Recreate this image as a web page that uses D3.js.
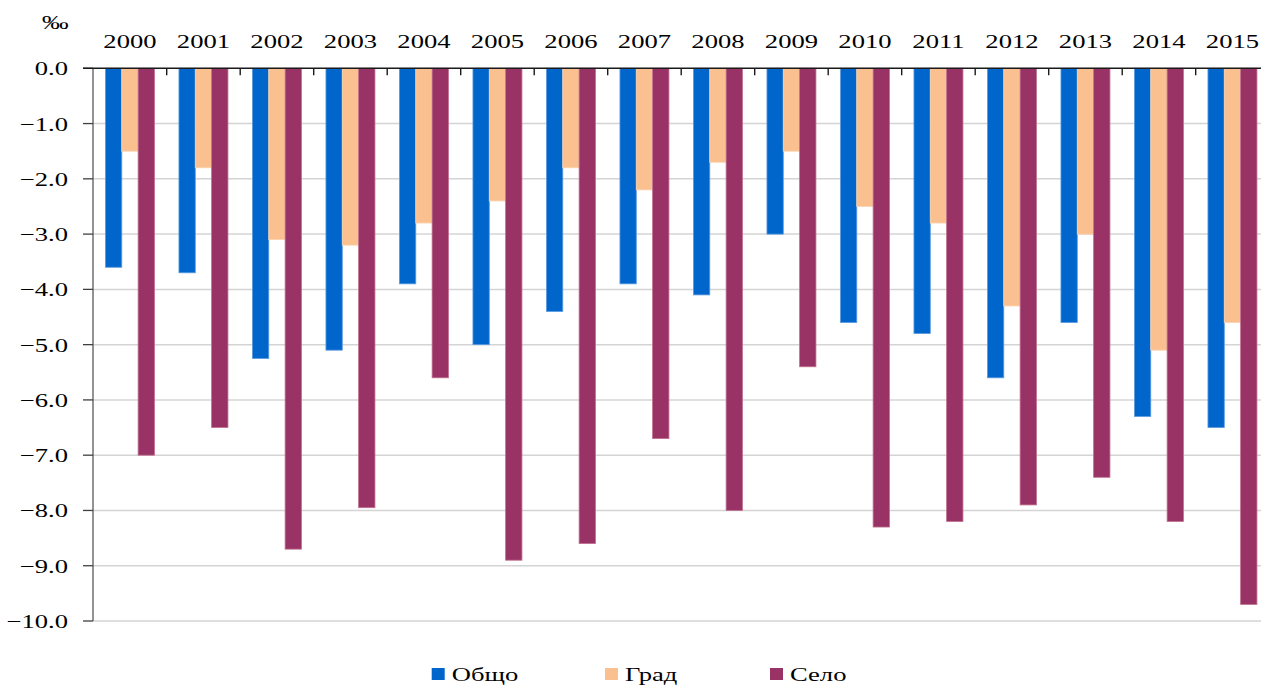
<!DOCTYPE html>
<html><head><meta charset="utf-8">
<script src="https://cdn.jsdelivr.net/npm/d3@7"></script>
<style>
body{margin:0;background:#fff;}
svg{display:block;}
text{font-family:"Liberation Serif","Times New Roman",serif;fill:#000;}
</style></head>
<body>
<svg id="chart" width="1261" height="685"></svg>
<script>
const years = ["2000","2001","2002","2003","2004","2005","2006","2007","2008","2009","2010","2011","2012","2013","2014","2015"];
const seriesNames = ["Общо","Град","Село"];
const obshto = [-3.6,-3.7,-5.25,-5.1,-3.9,-5.0,-4.4,-3.9,-4.1,-3.0,-4.6,-4.8,-5.6,-4.6,-6.3,-6.5];
const grad   = [-1.5,-1.8,-3.1,-3.2,-2.8,-2.4,-1.8,-2.2,-1.7,-1.5,-2.5,-2.8,-4.3,-3.0,-5.1,-4.6];
const selo   = [-7.0,-6.5,-8.7,-7.95,-5.6,-8.9,-8.6,-6.7,-8.0,-5.4,-8.3,-8.2,-7.9,-7.4,-8.2,-9.7];
const colors = ["#0066CC","#FAC090","#993366"];
const strokes = ["#5b9be0","#fbd3b0","#c0708f"];
const yTicks = [0,-1,-2,-3,-4,-5,-6,-7,-8,-9,-10];
const unitLabel = "‰";

const values = [obshto, grad, selo];
const svg = d3.select("#chart");
const SX = 1.4; // horizontal stretch of text

const x0 = d3.scaleBand().domain(years).range([93.2, 1269.2]).paddingInner(0).paddingOuter(0);
const x1 = d3.scaleBand().domain(seriesNames).range([0, x0.bandwidth()]).paddingInner(0).paddingOuter(0.75);
const y = d3.scaleLinear().domain([0, -10]).range([68.3, 621]);

// gridlines
svg.append("g").selectAll("line").data(yTicks.filter(d => d !== 0)).join("line")
  .attr("x1", 93).attr("x2", 1261)
  .attr("y1", d => y(d)).attr("y2", d => y(d))
  .attr("stroke", "#d4d4d4").attr("stroke-width", 1.5);

// bars
const gBars = svg.append("g");
years.forEach((yr, i) => {
  seriesNames.forEach((s, j) => {
    const v = values[j][i];
    gBars.append("rect")
      .attr("x", x0(yr) + x1(s))
      .attr("y", y(0))
      .attr("width", x1.bandwidth())
      .attr("height", y(v) - y(0))
      .attr("fill", colors[j])
      .attr("stroke", strokes[j]).attr("stroke-width", 0.8);
  });
});

// y axis line
svg.append("line").attr("x1", 93).attr("x2", 93).attr("y1", y(0)).attr("y2", y(-10))
  .attr("stroke", "#595959").attr("stroke-width", 1.3);
// y ticks
svg.append("g").selectAll("line").data(yTicks).join("line")
  .attr("x1", 83).attr("x2", 93).attr("y1", d => y(d)).attr("y2", d => y(d))
  .attr("stroke", "#404040").attr("stroke-width", 1.3);
// y labels
svg.append("g").selectAll("text").data(yTicks).join("text")
  .attr("transform", d => `translate(68,${y(d) + 7}) scale(${SX},1)`)
  .attr("text-anchor", "end").attr("font-size", 19)
  .text(d => d3.format(".1f")(d));

// top x axis line
svg.append("line").attr("x1", 83).attr("x2", 1261).attr("y1", y(0)).attr("y2", y(0))
  .attr("stroke", "#1a1a1a").attr("stroke-width", 1.4);
// category boundary ticks
svg.append("g").selectAll("line").data(years.slice(1)).join("line")
  .attr("x1", d => x0(d)).attr("x2", d => x0(d))
  .attr("y1", y(0)).attr("y2", y(0) + 7)
  .attr("stroke", "#1a1a1a").attr("stroke-width", 1.4);
// year labels
svg.append("g").selectAll("text").data(years).join("text")
  .attr("transform", d => `translate(${x0(d) + x0.bandwidth() / 2},47.5) scale(${SX},1)`)
  .attr("text-anchor", "middle").attr("font-size", 19)
  .text(d => d);

// unit label
svg.append("text")
  .attr("transform", `translate(42,29) scale(${SX},1)`)
  .attr("font-size", 19).text(unitLabel);

// legend
const legX = [431.7, 605, 770];
const leg = svg.append("g");
seriesNames.forEach((s, j) => {
  leg.append("rect").attr("x", legX[j]).attr("y", 668).attr("width", 13).attr("height", 12)
    .attr("fill", colors[j]);
  leg.append("text")
    .attr("transform", `translate(${legX[j] + 20},680.5) scale(${SX},1)`)
    .attr("font-size", 19).text(s);
});
</script>
</body></html>
